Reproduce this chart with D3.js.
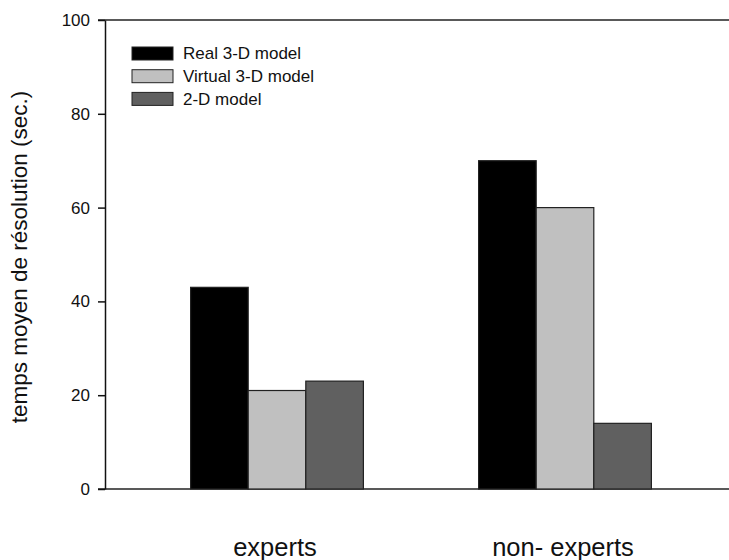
<!DOCTYPE html>
<html>
<head>
<meta charset="utf-8">
<script src="https://cdn.jsdelivr.net/npm/d3@7"></script>
<style>
  body { margin: 0; background: #fff; }
  svg { display: block; font-family: "Liberation Sans", Arial, Helvetica, sans-serif; }
</style>
</head>
<body>
<svg id="chart" width="729" height="560"></svg>
<script>
const categories = ["experts", "non- experts"];
const seriesNames = ["Real 3-D model", "Virtual 3-D model", "2-D model"];
const realValues = [43, 70];
const virtualValues = [21, 60];
const twoDValues = [23, 14];
const yTicks = [0, 20, 40, 60, 80, 100];
const yLabel = "temps moyen de résolution (sec.)";
const colors = ["#000000", "#c0c0c0", "#606060"];

const series = [realValues, virtualValues, twoDValues];

const svg = d3.select("#chart");
const W = 729, H = 560;

const y = d3.scaleLinear().domain([0, 100]).range([489, 20]);
const x = d3.scaleLinear().domain([1, 2]).range([277, 565]);
const barW = x(1.2) - x(1);

// frame lines (top and bottom)
svg.append("line").attr("x1", 98).attr("x2", W).attr("y1", y(100)).attr("y2", y(100))
  .attr("stroke", "#222").attr("stroke-width", 1.5);
svg.append("line").attr("x1", 98).attr("x2", W).attr("y1", y(0)).attr("y2", y(0))
  .attr("stroke", "#222").attr("stroke-width", 1.5);

// bars
categories.forEach((c, ci) => {
  series.forEach((s, si) => {
    const x0 = x(ci + 1) + (si - 1.5) * barW;
    svg.append("rect")
      .attr("x", x0)
      .attr("y", y(s[ci]))
      .attr("width", barW)
      .attr("height", y(0) - y(s[ci]))
      .attr("fill", colors[si])
      .attr("stroke", "#222")
      .attr("stroke-width", 1.2);
  });
});

// y axis
const yAxis = d3.axisLeft(y).tickValues(yTicks).tickSize(7).tickSizeOuter(0).tickPadding(8)
  .tickFormat(d3.format("d"));
const gy = svg.append("g").attr("transform", "translate(105,0)").call(yAxis);
gy.select(".domain").attr("stroke", "#111").attr("stroke-width", 1.5);
gy.selectAll(".tick line").attr("stroke", "#111").attr("stroke-width", 1.5);
gy.selectAll(".tick text").attr("font-size", 17).attr("fill", "#111")
  .attr("font-family", "'Liberation Sans', Arial, sans-serif");

// x category labels
svg.selectAll(".xlab").data(categories).enter().append("text")
  .attr("class", "xlab")
  .attr("x", (d, i) => x(i + 1) - 2)
  .attr("y", 556)
  .attr("text-anchor", "middle")
  .attr("font-size", 25.5)
  .attr("fill", "#111")
  .text(d => d);

// y label
svg.append("text")
  .attr("transform", "translate(27,257) rotate(-90)")
  .attr("text-anchor", "middle")
  .attr("font-size", 22.5)
  .attr("fill", "#111")
  .text(yLabel);

// legend
const leg = svg.append("g");
seriesNames.forEach((n, i) => {
  const top = 47 + i * 22.7;
  leg.append("rect").attr("x", 132).attr("y", top).attr("width", 41).attr("height", 13)
    .attr("fill", colors[i]).attr("stroke", "#222").attr("stroke-width", 1);
  leg.append("text").attr("x", 183).attr("y", top + 12.3)
    .attr("font-size", 17).attr("fill", "#111").text(n);
});
</script>
</body>
</html>
